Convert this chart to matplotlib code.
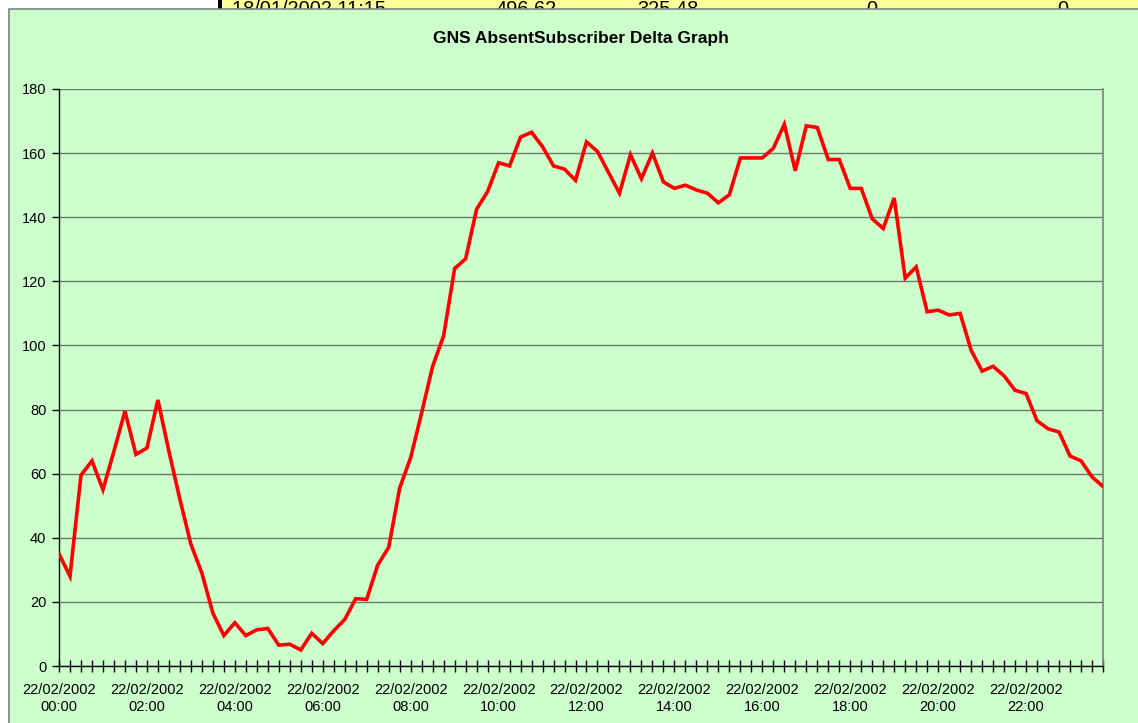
import numpy as np
import matplotlib
matplotlib.use("Agg")
import matplotlib.pyplot as plt
from matplotlib.patches import Rectangle

# Donnees : une valeur toutes les 15 minutes, 22/02/2002
day = "22/02/2002"
hours = ["00:00", "02:00", "04:00", "06:00", "08:00", "10:00",
         "12:00", "14:00", "16:00", "18:00", "20:00", "22:00"]
delta = [35, 28, 59.5, 64, 55, 67, 79.5, 66, 68, 83,
         67, 52, 38, 29, 16.5, 9.5, 13.5, 9.5, 11.3, 11.7,
         6.5, 6.8, 5, 10.2, 7, 11, 14.5, 21, 20.8, 31.5,
         37, 55.5, 65, 79, 93.5, 103, 124, 127, 142.5, 148,
         157, 156, 165, 166.5, 162, 156, 155, 151.5, 163.5, 160.5,
         154, 147.5, 159.5, 152, 160, 151, 149, 150, 148.5, 147.5,
         144.5, 147, 158.5, 158.5, 158.5, 161.5, 169, 154.5, 168.5, 168,
         158, 158, 149, 149, 139.5, 136.5, 146, 121, 124.5, 110.5,
         111, 109.5, 110, 98.5, 92, 93.5, 90.5, 86, 85, 76.5,
         74, 73, 65.5, 64, 59, 56]

# ligne du tableur visible au-dessus du graphique
sheet_row = ["18/01/2002 11:15", "496.62", "325.48", "0", "0"]

plt.rcParams["font.family"] = ["Liberation Sans", "DejaVu Sans"]

W, H = 1138, 723
fig = plt.figure(figsize=(W / 100, H / 100), dpi=100)
fig.patch.set_facecolor("white")

green = "#CCFFCC"

# bandeau jaune du tableur (coupe par le graphique)
fig.patches.append(Rectangle((222 / W, 0), 1, 1, transform=fig.transFigure,
                             facecolor="#FFFF99", edgecolor="none", zorder=-3))
fig.patches.append(Rectangle((218 / W, 0), 4 / W, 1, transform=fig.transFigure,
                             facecolor="black", edgecolor="none", zorder=-3))
row_x = [232, 495, 637, 866, 1057]
for xx, txt in zip(row_x, sheet_row):
    fig.text(xx / W, 1 - 15 / H, txt, fontsize=14.4, ha="left", va="baseline",
             zorder=-2)

# zone du graphique
fig.patches.append(Rectangle((9 / W, -0.1), 1, 1 - 9 / H + 0.1,
                             transform=fig.transFigure, facecolor=green,
                             edgecolor="#808080", linewidth=1.2, zorder=-1))

left, right, top, bottom = 59, 1103, 89, 666
ax = fig.add_axes([left / W, 1 - bottom / H, (right - left) / W, (bottom - top) / H])
ax.set_facecolor(green)

x = np.arange(len(delta))
ax.plot(x, delta, color="#FF0000", lw=2.6, solid_joinstyle="miter", zorder=3)

ax.set_xlim(0, len(delta) - 1)
ax.set_ylim(0, 180)
ax.set_yticks(np.arange(0, 181, 20))
ax.yaxis.grid(True, color="#6E7A6E", lw=1.0)
ax.set_axisbelow(True)

ax.set_xticks(x[::8])
ax.set_xticklabels([f"{day}\n{h}" for h in hours], fontsize=10.5, linespacing=1.25)
ax.set_xticks(x, minor=True)
ax.tick_params(axis="x", which="both", direction="inout", length=9, width=1,
               color="black", pad=8)
ax.tick_params(axis="y", direction="out", length=5, width=1, labelsize=10.5, pad=4)

for s in ["left", "bottom"]:
    ax.spines[s].set_color("black")
    ax.spines[s].set_linewidth(1)
ax.spines["right"].set_color("#808080")
ax.spines["right"].set_linewidth(1.2)
ax.spines["top"].set_visible(False)

fig.text(581 / W, 1 - 39 / H, "GNS AbsentSubscriber Delta Graph", fontsize=12.5,
         fontweight="bold", ha="center", va="center")

fig.savefig("out.png", dpi=100, facecolor=fig.get_facecolor())
